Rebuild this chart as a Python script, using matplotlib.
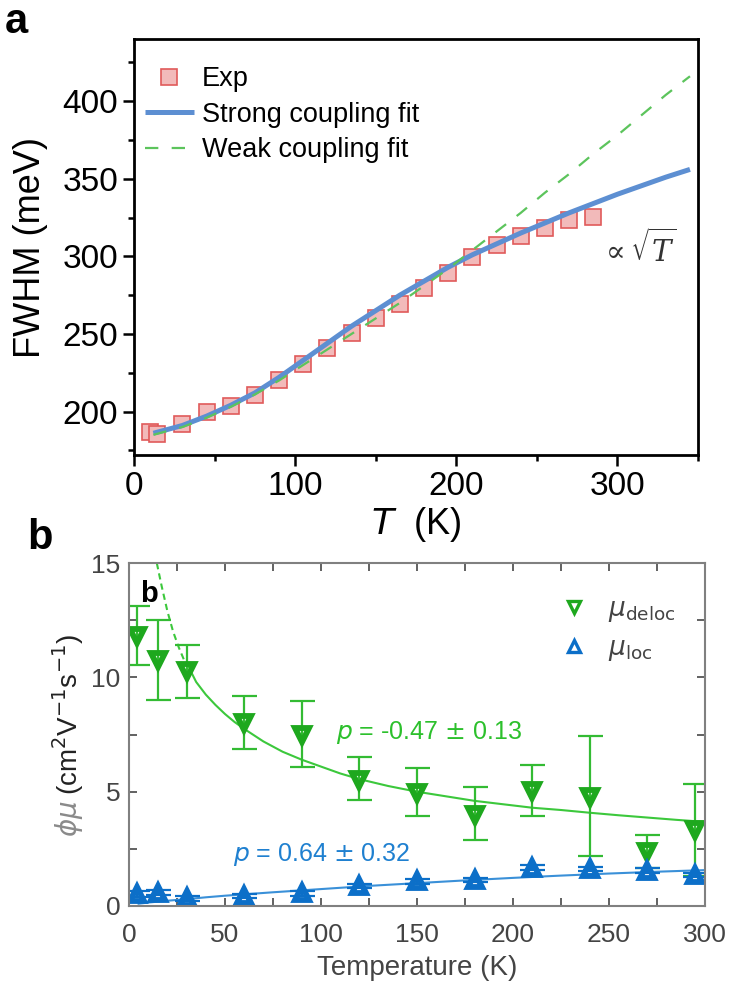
import matplotlib
matplotlib.use("Agg")
import matplotlib.pyplot as plt
from matplotlib.ticker import MultipleLocator

plt.rcParams['font.family'] = ['Liberation Sans', 'DejaVu Sans']
plt.rcParams['mathtext.fontset'] = 'dejavusans'

# ---- panel a data ----
exp_T = [10, 14, 30, 45, 60, 75, 90, 105, 120, 135, 150, 165, 180, 195, 210, 225, 240, 255, 270, 285]
exp_fwhm = [186.5, 185.5, 192, 199.4, 203.7, 210.8, 220.3, 230.6, 240.7, 250.4,
            260, 269.4, 279.5, 289.2, 299.6, 307, 313, 318.3, 323.3, 325.4]

fit_T = [12, 30, 45, 60, 75, 90, 105, 120, 135, 150, 165, 180, 195, 210,
         225, 240, 255, 270, 285, 300, 315, 330, 345]
strong_fit = [186, 191, 197, 204, 212, 222, 233, 244, 255, 265, 275, 284, 293, 301,
              308, 315, 321.5, 328, 334, 340, 345.5, 351, 356]
weak_fit = [185, 190, 196, 203, 211, 220, 230, 240, 250, 260, 270, 281, 292, 304,
            316, 328, 341, 353, 366, 378, 391, 404, 416]

# ---- panel b data ----
mob_T = [4, 15, 30, 60, 90, 120, 150, 180, 210, 240, 270, 295]
deloc = [11.8, 10.77, 10.3, 8.0, 7.5, 5.5, 4.95, 3.99, 5.04, 4.79, 2.38, 3.33]
deloc_hi = [13.13, 12.5, 11.4, 9.2, 8.96, 6.5, 6.03, 5.19, 6.15, 7.43, 3.11, 5.35]
deloc_lo = [10.54, 9.03, 9.12, 6.85, 6.1, 4.63, 3.95, 2.87, 3.95, 2.19, 1.65, 1.3]
loc = [0.52, 0.58, 0.33, 0.44, 0.55, 0.87, 1.08, 1.14, 1.68, 1.61, 1.55, 1.36]
loc_err = [0.12, 0.12, 0.1, 0.1, 0.1, 0.1, 0.1, 0.1, 0.12, 0.1, 0.12, 0.1]

deloc_dash_T = [14.5, 17, 20, 23, 26, 29, 32]
deloc_dash = [15.0, 14.0, 12.9, 12.0, 11.3, 10.7, 10.3]
deloc_fit_T = [32, 35, 40, 45, 50, 55, 60, 70, 80, 90, 100, 110, 120, 135, 150,
               165, 180, 195, 210, 225, 240, 255, 270, 285, 300]
deloc_fit = [10.3, 9.8, 9.25, 8.8, 8.4, 8.05, 7.75, 7.2, 6.75, 6.4, 6.1, 5.8, 5.55,
             5.25, 5.0, 4.8, 4.6, 4.45, 4.3, 4.2, 4.08, 3.97, 3.87, 3.77, 3.68]
loc_fit_T = [5, 10, 15, 20, 30, 40, 50, 75, 100, 125, 150, 175, 200, 225, 250, 275, 300]
loc_fit = [0.1, 0.15, 0.19, 0.23, 0.3, 0.38, 0.45, 0.6, 0.74, 0.88, 1.0, 1.12,
           1.23, 1.33, 1.42, 1.5, 1.57]

fig = plt.figure(figsize=(7.3, 9.88), dpi=100)

# ================= panel a =================
ax1 = fig.add_axes([0.1836, 0.5395, 0.7726, 0.421])
ax1.plot(exp_T, exp_fwhm, 's', ms=11, mfc='#f2baba', mec='#e05a5a', mew=1.2,
         label='Exp', zorder=2)
ax1.plot(fit_T, strong_fit, '-', color='#5d8fd2', lw=3.6, label='Strong coupling fit',
         zorder=3, solid_capstyle='butt')
ax1.plot(fit_T, weak_fit, '--', color='#5cc45c', lw=1.6, dashes=(6, 6),
         label='Weak coupling fit', zorder=4)

ax1.set_xlim(0, 350)
ax1.set_ylim(172, 440)
ax1.xaxis.set_major_locator(MultipleLocator(100))
ax1.xaxis.set_minor_locator(MultipleLocator(50))
ax1.yaxis.set_major_locator(MultipleLocator(50))
ax1.yaxis.set_minor_locator(MultipleLocator(25))
ax1.tick_params(which='both', direction='out', top=False, right=False,
                labelsize=24, width=1.8)
ax1.tick_params(which='major', length=8)
ax1.tick_params(which='minor', length=4)
ax1.set_yticks([200, 250, 300, 350, 400])
for s in ax1.spines.values():
    s.set_linewidth(2)
ax1.set_ylabel('FWHM (meV)', fontsize=26, labelpad=10)
ax1.set_xlabel(r'$\it{T}$  (K)', fontsize=26, labelpad=2)
ax1.text(313, 305, r'$\propto\sqrt{T}$', fontsize=21, ha='center', va='center',
         color='#333333', math_fontfamily='dejavuserif')
ax1.legend(loc='upper left', bbox_to_anchor=(0.0, 0.96), frameon=False,
           fontsize=19.5, handlelength=1.8, handletextpad=0.3, labelspacing=0.35,
           borderpad=0.2, borderaxespad=0.2)
fig.text(0.006, 0.998, 'a', fontsize=30, fontweight='bold', va='top')

# ================= panel b =================
green = '#1ea81e'
blue = '#0c6fc8'
grey = '#444444'
ax2 = fig.add_axes([0.1767, 0.083, 0.789, 0.347])
ax2.plot(deloc_dash_T, deloc_dash, '--', color='#3cc83c', lw=1.5, dashes=(3, 2))
ax2.plot(deloc_fit_T, deloc_fit, '-', color='#3cc83c', lw=1.5)
ax2.plot(loc_fit_T, loc_fit, '-', color='#3a90d8', lw=1.5)

err_lo = [v - lo for v, lo in zip(deloc, deloc_lo)]
err_hi = [hi - v for v, hi in zip(deloc, deloc_hi)]
ax2.errorbar(mob_T, deloc, yerr=[err_lo, err_hi], fmt='none', ecolor='#33bb33',
             elinewidth=1.6, capsize=9, capthick=1.6)
ax2.plot(mob_T, deloc, 'v', ms=10, mfc='none', mec=green, mew=4.2, ls='none')
ax2.errorbar(mob_T, loc, yerr=loc_err, fmt='none', ecolor=blue,
             elinewidth=1.6, capsize=9, capthick=1.6)
ax2.plot(mob_T, loc, '^', ms=10, mfc='none', mec=blue, mew=4.2, ls='none')

# legend handles
ax2.plot([], [], 'v', ms=9, mfc='none', mec=green, mew=2.4, label=r'$\mu_{\mathrm{deloc}}$')
ax2.plot([], [], '^', ms=9, mfc='none', mec=blue, mew=2.4, label=r'$\mu_{\mathrm{loc}}$')
leg = ax2.legend(loc='upper right', bbox_to_anchor=(0.99, 0.97), frameon=False,
                 fontsize=19, handlelength=1.0, handletextpad=0.8, labelspacing=0.45)
for t in leg.get_texts():
    t.set_color(grey)

ax2.set_xlim(0, 300)
ax2.set_ylim(0, 15)
ax2.xaxis.set_major_locator(MultipleLocator(50))
ax2.xaxis.set_minor_locator(MultipleLocator(25))
ax2.yaxis.set_major_locator(MultipleLocator(5))
ax2.yaxis.set_minor_locator(MultipleLocator(2.5))
ax2.tick_params(which='both', direction='in', top=True, right=True, length=6,
                width=1.3, color='#555555', labelsize=19, labelcolor=grey)
ax2.tick_params(axis='x', pad=12)
ax2.tick_params(axis='y', pad=6)
for s in ax2.spines.values():
    s.set_linewidth(1.5)
    s.set_color('#808080')
ax2.set_xlabel('Temperature (K)', fontsize=20, color=grey, labelpad=6)
ax2.text(-0.105, 0.255, r'$\phi\mu$', transform=ax2.transAxes, rotation=90,
         fontsize=20, color='#8a8a8a', ha='center', va='center')
ax2.text(-0.105, 0.56, r'(cm$^2$V$^{-1}$s$^{-1}$)', transform=ax2.transAxes,
         rotation=90, fontsize=20, color='#222222', ha='center', va='center')

ax2.text(108, 7.6, r'$p$ = -0.47 $\pm$ 0.13', fontsize=18, color='#2cc02c', va='center')
ax2.text(54, 2.25, r'$p$ = 0.64 $\pm$ 0.32', fontsize=18, color='#1f80d0', va='center')
ax2.text(0.02, 0.91, 'b', transform=ax2.transAxes, fontsize=21, fontweight='bold',
         va='center')
fig.text(0.038, 0.455, 'b', fontsize=30, fontweight='bold', va='center')

fig.savefig('out.png', dpi=100)
